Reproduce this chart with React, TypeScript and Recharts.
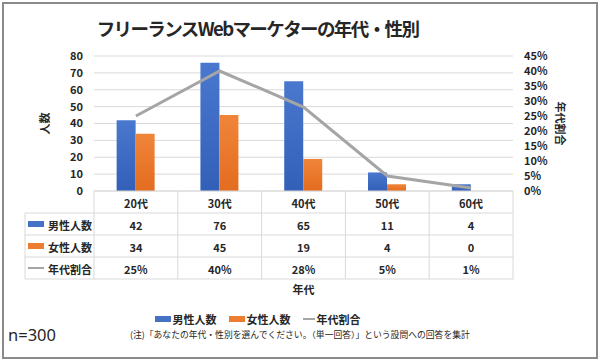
import React from 'react'
import { ComposedChart, Bar, Line, XAxis, YAxis, CartesianGrid, Legend } from 'recharts'

const ageGroups = ['20代', '30代', '40代', '50代', '60代']
const maleCounts = [42, 76, 65, 11, 4]
const femaleCounts = [34, 45, 19, 4, 0]
const ageShares = [25, 40, 28, 5, 1]
const countTicks = [0, 10, 20, 30, 40, 50, 60, 70, 80]
const shareTicks = [0, 5, 10, 15, 20, 25, 30, 35, 40, 45]

const seriesNames = { male: '男性人数', female: '女性人数', share: '年代割合' }

const data = ageGroups.map((age, i) => ({
  age,
  male: maleCounts[i],
  female: femaleCounts[i],
  share: ageShares[i],
}))

const FONT = '"Noto Sans CJK JP", "Noto Sans", sans-serif'
const TEXT = '#262626'
const GRID = '#d9d9d9'
const BLUE = '#4472c4'
const ORANGE = '#ed7d31'
const GREY = '#a5a5a5'
const ROW_H = 22

const rows = [
  { key: 'male', label: seriesNames.male, values: maleCounts.map(String), icon: 'bar', color: BLUE },
  { key: 'female', label: seriesNames.female, values: femaleCounts.map(String), icon: 'bar', color: ORANGE },
  { key: 'share', label: seriesNames.share, values: ageShares.map(v => v + '%'), icon: 'line', color: GREY },
]

// the data table under the plot is drawn as the x-axis ticks
function TableTick(props: any) {
  const { x, y, payload, width } = props
  const i = payload.index
  const colW = width / ageGroups.length
  const left = x - colW / 2
  const right = x + colW / 2
  const txt = { fontFamily: FONT, fontSize: 11, fontWeight: 700, fill: TEXT, textAnchor: 'middle' as const, dominantBaseline: 'central' as const }
  return (
    <g>
      <line x1={left} x2={left} y1={y} y2={y + ROW_H * 4} stroke={GRID} />
      {i === ageGroups.length - 1 && <line x1={right} x2={right} y1={y} y2={y + ROW_H * 4} stroke={GRID} />}
      {[1, 2, 3, 4].map(r => (
        <line key={r} x1={left} x2={right} y1={y + ROW_H * r} y2={y + ROW_H * r} stroke={GRID} />
      ))}
      <text x={x} y={y + ROW_H / 2 + 1} {...txt}>{payload.value}</text>
      {rows.map((row, r) => (
        <text key={row.key} x={x} y={y + ROW_H * (r + 1.5) + 1} {...txt}>{row.values[i]}</text>
      ))}
      {i === 0 && (
        <g>
          <line x1={left - 69} x2={left - 69} y1={y + ROW_H} y2={y + ROW_H * 4} stroke={GRID} />
          {[1, 2, 3, 4].map(r => (
            <line key={r} x1={left - 69} x2={left} y1={y + ROW_H * r} y2={y + ROW_H * r} stroke={GRID} />
          ))}
          {rows.map((row, r) => {
            const cy = y + ROW_H * (r + 1.5)
            return (
              <g key={row.key}>
                {row.icon === 'bar'
                  ? <rect x={left - 66} y={cy - 3} width={16} height={6} fill={row.color} />
                  : <line x1={left - 66} x2={left - 50} y1={cy} y2={cy} stroke={row.color} strokeWidth={2} />}
                <text x={left - 2} y={cy + 1} {...txt} textAnchor="end">{row.label}</text>
              </g>
            )
          })}
        </g>
      )}
    </g>
  )
}

function ChartLegend() {
  const items = [
    { label: seriesNames.male, color: BLUE, icon: 'bar' },
    { label: seriesNames.female, color: ORANGE, icon: 'bar' },
    { label: seriesNames.share, color: GREY, icon: 'line' },
  ]
  return (
    <div style={{ display: 'flex', justifyContent: 'center', gap: 12, fontFamily: FONT, fontSize: 11, fontWeight: 700, color: TEXT }}>
      {items.map(it => (
        <div key={it.label} style={{ display: 'flex', alignItems: 'center', gap: 2 }}>
          {it.icon === 'bar'
            ? <span style={{ width: 16, height: 6, background: it.color, display: 'inline-block' }} />
            : <span style={{ width: 12, height: 2, background: it.color, display: 'inline-block' }} />}
          <span>{it.label}</span>
        </div>
      ))}
    </div>
  )
}

export default function App() {
  const tickStyle = { fontFamily: FONT, fontSize: 11, fontWeight: 700, fill: TEXT }
  return (
    <div style={{ position: 'absolute', left: 0, top: 0, width: 600, height: 363, background: '#fff', fontFamily: FONT }}>
      <div style={{ position: 'absolute', left: 2, top: 2, width: 592, height: 353, border: '2px solid #8a8a8a' }} />
      <div style={{ position: 'absolute', left: 0, width: 515, top: 15, textAlign: 'center', fontSize: 18.5, letterSpacing: -1.6, fontWeight: 700, color: TEXT, lineHeight: '26px' }}>
        フリーランスWebマーケターの年代・性別
      </div>
      <ComposedChart
        width={600}
        height={363}
        data={data}
        margin={{ top: 56, right: 0, bottom: 49, left: 0 }}
        barCategoryGap="27%"
        barGap={0}
        style={{ position: 'absolute', left: 0, top: 0 }}
      >
        <defs>
          <linearGradient id="maleFill" x1="0" y1="0" x2="0" y2="1">
            <stop offset="0%" stopColor="#4a78cf" />
            <stop offset="100%" stopColor="#3260b8" />
          </linearGradient>
          <linearGradient id="femaleFill" x1="0" y1="0" x2="0" y2="1">
            <stop offset="0%" stopColor="#f0853a" />
            <stop offset="100%" stopColor="#e36c1f" />
          </linearGradient>
        </defs>
        <CartesianGrid vertical={false} stroke={GRID} yAxisId="left" />
        <XAxis
          dataKey="age"
          height={88 + 35}
          tickSize={0}
          tickMargin={0}
          tickLine={false}
          axisLine={{ stroke: GRID }}
          interval={0}
          tick={<TableTick />}
          label={{ value: '年代', position: 'insideBottom', offset: 20, style: { ...tickStyle } }}
        />
        <YAxis
          yAxisId="left"
          width={94}
          domain={[0, 80]}
          ticks={countTicks}
          interval={0}
          tickLine={false}
          axisLine={false}
          tickSize={6}
          tickMargin={5}
          tick={tickStyle}
          label={{ value: '人数', angle: -90, position: 'center', dx: -2, style: { ...tickStyle, textAnchor: 'middle' } }}
        />
        <YAxis
          yAxisId="right"
          orientation="right"
          width={87}
          domain={[0, 45]}
          ticks={shareTicks}
          interval={0}
          tickFormatter={(v: number) => v + '%'}
          tickLine={false}
          axisLine={false}
          tickSize={6}
          tickMargin={5}
          tick={tickStyle}
          label={{ value: '年代割合', angle: 90, position: 'center', dx: 3, style: { ...tickStyle, textAnchor: 'middle' } }}
        />
        <Bar yAxisId="left" dataKey="male" name={seriesNames.male} fill="url(#maleFill)" isAnimationActive={false} />
        <Bar yAxisId="left" dataKey="female" name={seriesNames.female} fill="url(#femaleFill)" isAnimationActive={false} />
        <Line yAxisId="right" dataKey="share" name={seriesNames.share} stroke={GREY} strokeWidth={3} dot={false} activeDot={false} isAnimationActive={false} />
        <Legend
          layout="horizontal"
          verticalAlign="middle"
          content={<ChartLegend />}
          wrapperStyle={{ top: 311, left: 0, width: 515, bottom: 'auto' }}
        />
      </ComposedChart>
      <div style={{ position: 'absolute', left: 8, top: 324, fontSize: 16.5, color: TEXT, fontFamily: '"Noto Sans", sans-serif', lineHeight: '22px' }}>n=300</div>
      <div style={{ position: 'absolute', left: 130, top: 328, fontSize: 8.8, color: TEXT, lineHeight: '14px', whiteSpace: 'nowrap' }}>
        (注)「あなたの年代・性別を選んでください。（単一回答）」という設問への回答を集計
      </div>
    </div>
  )
}
